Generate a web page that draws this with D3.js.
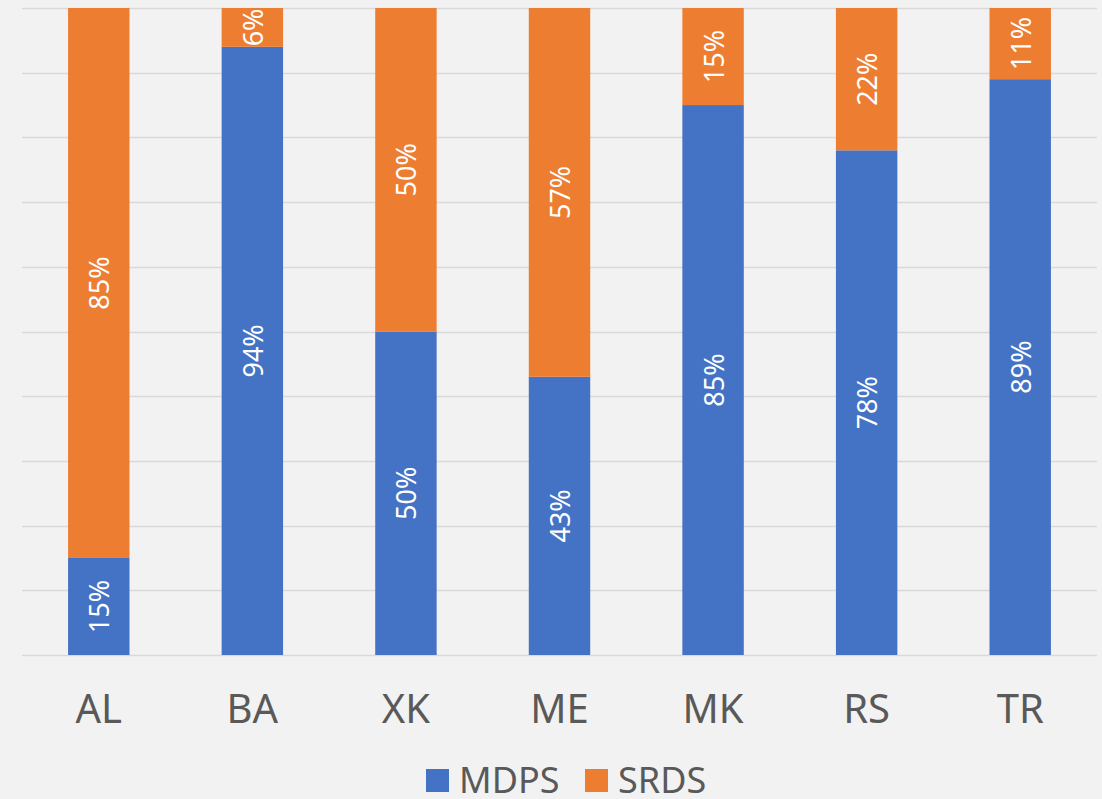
<!DOCTYPE html>
<html>
<head>
<meta charset="utf-8">
<script src="https://cdn.jsdelivr.net/npm/d3@7"></script>
<style>
  body { margin: 0; background: #f2f2f2; }
  svg { display: block; font-family: "Noto Sans", "Open Sans", sans-serif; }
</style>
</head>
<body>
<div class="chart"></div>
<script>
// data
var categories = ["AL", "BA", "XK", "ME", "MK", "RS", "TR"];
var seriesNames = ["MDPS", "SRDS"];
var mdps = [15, 94, 50, 43, 85, 78, 89];
var srds = [85, 6, 50, 57, 15, 22, 11];
var colors = ["#4472c4", "#ed7d31"];

var width = 1102, height = 799;

var svg = d3.select("div.chart").append("svg")
  .attr("width", width).attr("height", height);

svg.append("rect").attr("width", width).attr("height", height).attr("fill", "#f2f2f2");

var x = d3.scaleBand()
  .domain(categories)
  .range([22, 1097])
  .paddingInner(0.6)
  .paddingOuter(0.3);

var y = d3.scaleLinear().domain([0, 100]).range([655, 8]);

// gridlines
svg.append("g").selectAll("line")
  .data(d3.range(0, 101, 10))
  .enter().append("line")
  .attr("x1", 22).attr("x2", 1097)
  .attr("y1", function(d) { return Math.round(y(d)) + 0.5; })
  .attr("y2", function(d) { return Math.round(y(d)) + 0.5; })
  .attr("stroke", "#d9d9d9").attr("stroke-width", 1.5);

// stacked data
var table = categories.map(function(c, i) { return { cat: c, MDPS: mdps[i], SRDS: srds[i] }; });
var stack = d3.stack().keys(seriesNames);
var layers = stack(table);

var layer = svg.selectAll(".layer")
  .data(layers)
  .enter().append("g")
  .attr("class", "layer")
  .attr("fill", function(d, i) { return colors[i]; });

layer.selectAll("rect")
  .data(function(d) { return d; })
  .enter().append("rect")
  .attr("x", function(d) { return x(d.data.cat); })
  .attr("width", x.bandwidth())
  .attr("y", function(d) { return y(d[1]); })
  .attr("height", function(d) { return y(d[0]) - y(d[1]); });

// value labels (rotated)
layer.selectAll("text")
  .data(function(d) { return d; })
  .enter().append("text")
  .attr("transform", function(d) {
    var cx = x(d.data.cat) + x.bandwidth() / 2;
    var cy = (y(d[0]) + y(d[1])) / 2;
    return "translate(" + cx + "," + cy + ") rotate(-90)";
  })
  .attr("text-anchor", "middle")
  .attr("dominant-baseline", "central")
  .attr("fill", "white")
  .attr("font-size", "27px")
  .text(function(d) { return (d[1] - d[0]) + "%"; });

// category labels
svg.append("g").selectAll("text")
  .data(categories)
  .enter().append("text")
  .attr("x", function(d) { return x(d) + x.bandwidth() / 2; })
  .attr("y", 723)
  .attr("text-anchor", "middle")
  .attr("fill", "#595959")
  .attr("font-size", "40px")
  .text(function(d) { return d; });

// legend
var legendX = [426, 585];
var legend = svg.append("g").selectAll("g")
  .data(seriesNames)
  .enter().append("g")
  .attr("transform", function(d, i) { return "translate(" + legendX[i] + ",769)"; });

legend.append("rect")
  .attr("width", 23).attr("height", 23)
  .attr("fill", function(d, i) { return colors[i]; });

legend.append("text")
  .attr("x", 33).attr("y", 24)
  .attr("fill", "#595959")
  .attr("font-size", "36px")
  .text(function(d) { return d; });
</script>
</body>
</html>
